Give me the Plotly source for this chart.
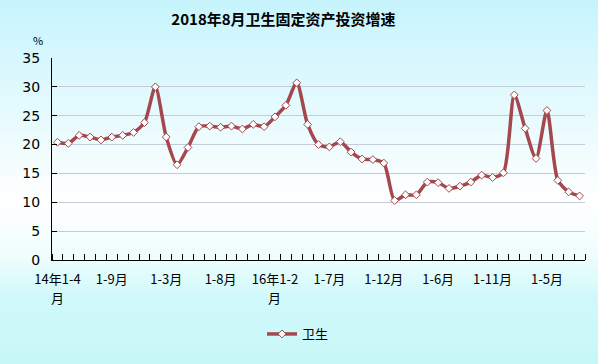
import plotly.graph_objects as go

title = "2018年8月卫生固定资产投资增速"
series_name = "卫生"

# monthly cumulative periods, 2014 1-4月 .. 2018 1-8月
months = (
    [f"2014年1-{m}月" for m in range(4, 13)]
    + [f"2015年1-{m}月" for m in range(2, 13)]
    + [f"2016年1-{m}月" for m in range(2, 13)]
    + [f"2017年1-{m}月" for m in range(2, 13)]
    + [f"2018年1-{m}月" for m in range(2, 9)]
)

growth = [
    20.4, 20.2, 21.6, 21.3, 20.8, 21.3, 21.6, 22.1, 23.8,
    30.0, 21.3, 16.5, 19.5, 23.1, 23.2, 23.0, 23.2, 22.7, 23.5, 23.1,
    24.8, 26.8, 30.7, 23.5, 20.0, 19.6, 20.5, 18.7, 17.5, 17.4, 16.8,
    10.3, 11.3, 11.3, 13.5, 13.4, 12.4, 12.8, 13.5, 14.7, 14.3, 15.1,
    28.6, 22.8, 17.6, 25.9, 13.8, 11.8, 11.1,
]

tick_idx = [0, 5, 10, 15, 20, 25, 30, 35, 40, 45]
tick_text = ["14年1-4", "1-9月", "1-3月", "1-8月", "16年1-2",
             "1-7月", "1-12月", "1-6月", "1-11月", "1-5月"]
# wrapped second line of the long tick labels
wrap_idx = [0, 20]
wrap_text = ["月", "月"]

y_ticks = [0, 5, 10, 15, 20, 25, 30, 35]

x = list(range(len(months)))

FONT = "Noto Sans CJK SC, DejaVu Sans, sans-serif"
LINE = "#A5474D"

fig = go.Figure()
fig.add_trace(go.Scatter(
    x=x, y=growth, name=series_name, customdata=months,
    mode="lines+markers",
    line=dict(color=LINE, width=3.5, shape="spline", smoothing=0.7),
    marker=dict(symbol="diamond", size=6, color="white",
                line=dict(color=LINE, width=1)),
    hovertemplate="%{customdata}: %{y}%<extra></extra>",
))

# background gradient (cyan -> white -> cyan)
def lerp(c1, c2, t):
    return tuple(round(a + (b - a) * t) for a, b in zip(c1, c2))

stops = [(0.0, (198, 244, 252)), (0.55, (255, 255, 255)),
         (0.70, (240, 253, 253)), (0.82, (208, 249, 250)), (1.0, (200, 247, 248))]
H, W = 364, 598
L, R, T, B = 52, 13, 58, 104
ph = H - T - B
pw = W - L - R
n = 73
shapes = []
for i in range(n):
    f0 = i / n
    f1 = (i + 1) / n
    fm = (f0 + f1) / 2
    for j in range(len(stops) - 1):
        if stops[j][0] <= fm <= stops[j + 1][0]:
            t = (fm - stops[j][0]) / (stops[j + 1][0] - stops[j][0])
            c = lerp(stops[j][1], stops[j + 1][1], t)
            break
    p0 = f0 * H
    p1 = f1 * H + 0.6
    shapes.append(dict(
        type="rect", xref="paper", yref="paper", layer="below",
        x0=(0 - L) / pw - 0.01, x1=(W - L) / pw + 0.01,
        y0=(H - B - p1) / ph, y1=(H - B - p0) / ph,
        fillcolor=f"rgb{c}", line=dict(width=0),
    ))

annotations = [dict(text="%", xref="paper", yref="paper",
                    x=(38 - L) / pw, y=(H - B - 40) / ph,
                    xanchor="center", yanchor="middle",
                    showarrow=False, font=dict(size=11, family=FONT))]
for xi, t in zip(wrap_idx, wrap_text):
    annotations.append(dict(text=t, xref="x", yref="paper", x=xi,
                            y=(H - B - 297) / ph, xanchor="center", yanchor="middle",
                            showarrow=False, font=dict(size=13, family=FONT)))

fig.update_layout(
    width=W, height=H,
    margin=dict(l=L, r=R, t=T, b=B, autoexpand=False),
    paper_bgcolor="rgb(198,244,252)",
    plot_bgcolor="rgba(0,0,0,0)",
    shapes=shapes,
    font=dict(family=FONT, color="#000000", size=12),
    title=dict(text=f"<b>{title}</b>", x=283.5 / W, xanchor="center",
               y=1 - 20 / H, yanchor="middle", xref="container", yref="container",
               font=dict(size=15, family=FONT, color="#000")),
    showlegend=True,
    legend=dict(orientation="h", x=(262 - L) / pw, xanchor="left",
                y=(H - B - 334) / ph, yanchor="middle",
                font=dict(size=13, family=FONT), bgcolor="rgba(0,0,0,0)"),
    xaxis=dict(
        range=[-0.5, len(months) - 0.5], tickmode="array",
        tickvals=tick_idx, ticktext=tick_text, ticks="",
        showgrid=False, zeroline=False, showline=True,
        linecolor="#000", linewidth=1,
        tickfont=dict(size=13, family=FONT),
        ticklabelstandoff=7,
        minor=dict(tickmode="linear", tick0=-0.5, dtick=1, ticks="inside",
                   ticklen=6, tickcolor="#000", tickwidth=1, showgrid=False),
    ),
    yaxis=dict(
        range=[0, 35], tickmode="array", tickvals=y_ticks,
        ticks="inside", ticklen=5, tickcolor="#000",
        showgrid=True, gridcolor="#C3CCDC", gridwidth=1,
        zeroline=False, showline=True, linecolor="#000", linewidth=1,
        tickfont=dict(size=14, family="DejaVu Sans, sans-serif"),
        ticklabelstandoff=8,
    ),
    annotations=annotations,
)

fig.write_html(
    "out.html",
    config={"displayModeBar": False},
    post_script="document.body.style.margin='0';document.body.style.overflow='hidden';",
)
